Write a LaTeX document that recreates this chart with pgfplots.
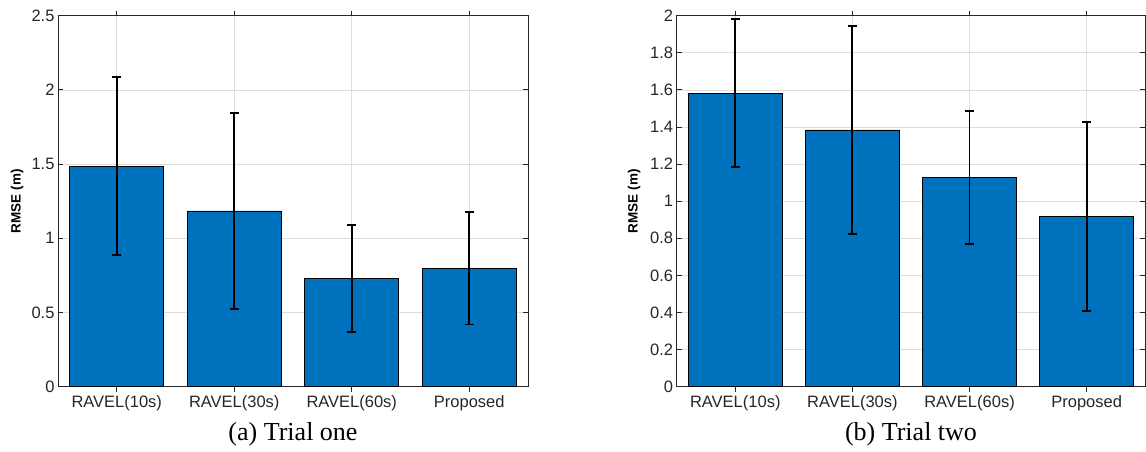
\documentclass[border=0pt]{standalone}
\usepackage{fontspec}
\setmainfont{Liberation Serif}
\setsansfont{Liberation Sans}
\usepackage{pgfplots}
\pgfplotsset{compat=1.18}
\definecolor{mblue}{rgb}{0,0.447,0.741}
\definecolor{maxis}{rgb}{0.15,0.15,0.15}
\pgfplotsset{mystyle/.style={
  scale only axis, height=371pt,
  xmin=0.5, xmax=4.5, ymin=0,
  xtick={1,2,3,4}, xticklabels={RAVEL(10s),RAVEL(30s),RAVEL(60s),Proposed},
  grid=major, major grid style={color=black!13, line width=0.7pt},
  axis line style={maxis, line width=0.9pt},
  tick style={maxis, line width=0.9pt}, major tick length=5pt,
  ticklabel style={font=\sffamily\fontsize{16.5}{16.5}\selectfont, text=maxis},
  /pgf/number format/assume math mode=true,
  ylabel={\sffamily\bfseries\fontsize{13.5}{13.5}\selectfont RMSE (m)},
  ylabel style={anchor=center, text=black},
  xticklabel style={yshift=-0.5pt},
  ybar, bar width=0.8,
},
mybar/.style={fill=mblue, draw=black, line width=0.9pt,
    error bars/.cd, y dir=both, y explicit,
    error bar style={line width=1.9pt, black},
    error mark options={rotate=90, mark size=4.5pt, line width=1.9pt, black}},
}
\begin{document}
\begin{tikzpicture}
\useasboundingbox (0pt,0pt) rectangle (1146pt,451pt);
\begin{axis}[mystyle, at={(58pt,64.3pt)}, anchor=south west, width=470pt,
  ymax=2.5, ytick={0,0.5,1,1.5,2,2.5},
  ylabel style={at={(axis description cs:-0.087,0.5)}}]
\addplot[mybar] coordinates {
  (1,1.485) +- (0,0.600)
  (2,1.184) +- (0,0.658)
  (3,0.730) +- (0,0.360)
  (4,0.798) +- (0,0.379)
};
\end{axis}
\begin{axis}[mystyle, at={(676.7pt,64.3pt)}, anchor=south west, width=468.5pt,
  ymax=2, ytick={0,0.2,...,2.01},
  yticklabel style={/pgf/number format/fixed},
  ylabel style={at={(axis description cs:-0.091,0.5)}}]
\addplot[mybar] coordinates {
  (1,1.582) +- (0,0.400)
  (2,1.384) +- (0,0.560)
  (3,1.127) +- (0,0.360)
  (4,0.918) +- (0,0.510)
};
\end{axis}
\node at (293pt,17pt) {\fontsize{26}{26}\selectfont (a) Trial one};
\node at (911pt,17pt) {\fontsize{26}{26}\selectfont (b) Trial two};
\end{tikzpicture}
\end{document}
